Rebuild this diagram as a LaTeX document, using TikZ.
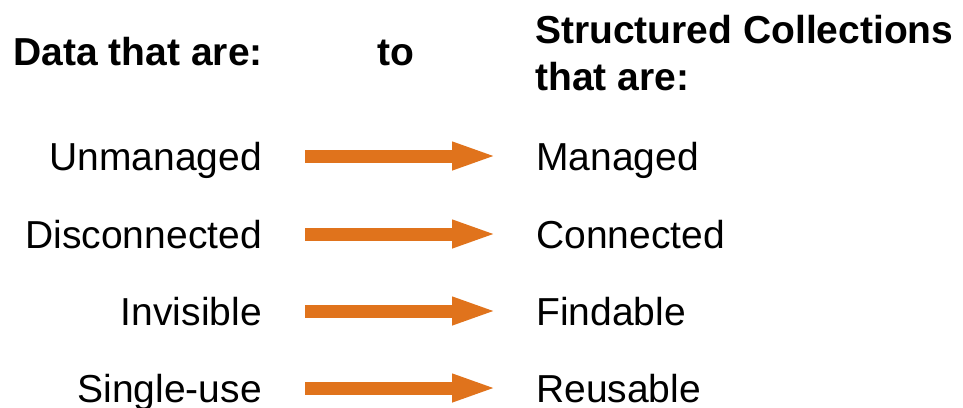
\documentclass[tikz,border=0pt]{standalone}
\usepackage{fontspec}
\setmainfont{Liberation Sans}
\usetikzlibrary{arrows.meta}
\definecolor{arroworange}{HTML}{E0731C}
\begin{document}
\begin{tikzpicture}[x=1pt,y=-1pt,
  lbl/.style={inner sep=0pt,font=\fontsize{39pt}{47pt}\selectfont},
  hdr/.style={inner sep=0pt,font=\fontsize{39pt}{47pt}\selectfont\bfseries},
  flow/.style={draw=arroworange,line width=13pt,-{Triangle[length=46pt,width=25pt]}}]
\useasboundingbox (0,0) rectangle (963,407);
% headers
\node[hdr,anchor=base east] (hleft) at (263,65) {Data that are:};
\node[hdr,anchor=base] (hto) at (396,65) {to};
\node[hdr,anchor=base west] (hright1) at (535,43) {Structured Collections};
\node[hdr,anchor=base west] (hright2) at (535,90) {that are:};
% rows
\node[lbl,anchor=base east] (l1) at (262,170) {Unmanaged};
\node[lbl,anchor=base west] (r1) at (536,170) {Managed};
\node[lbl,anchor=base east] (l2) at (262,248) {Disconnected};
\node[lbl,anchor=base west] (r2) at (536,248) {Connected};
\node[lbl,anchor=base east] (l3) at (262,325) {Invisible};
\node[lbl,anchor=base west] (r3) at (536,325) {Findable};
\node[lbl,anchor=base east] (l4) at (262,402) {Single-use};
\node[lbl,anchor=base west] (r4) at (536,402) {Reusable};
% arrows
\foreach \i in {1,2,3,4}{
  \draw[flow] ([shift={(43,-14)}]l\i.base east) -- ([shift={(-38,-14)}]r\i.base west);
}
\end{tikzpicture}
\end{document}
